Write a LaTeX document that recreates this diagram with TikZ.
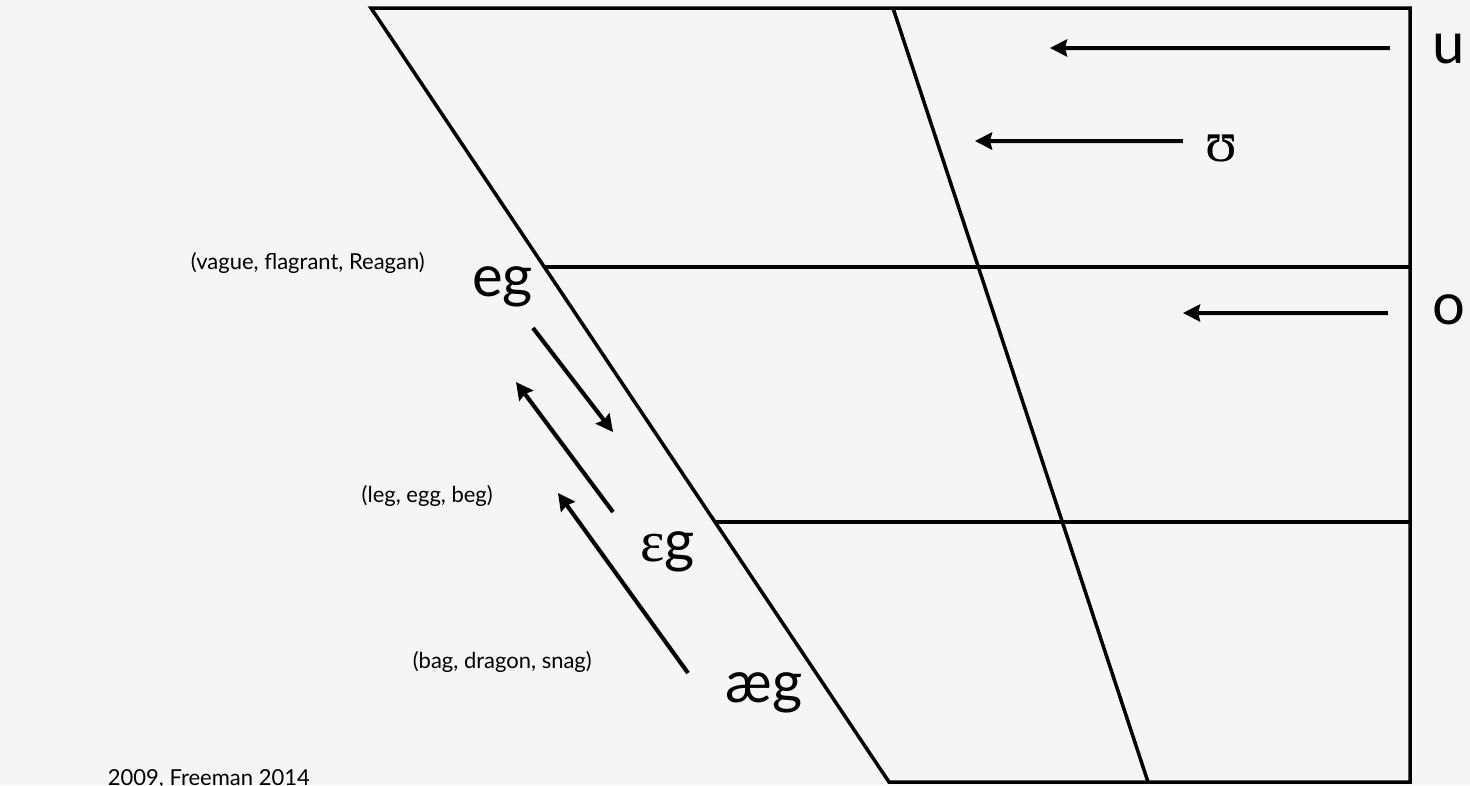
\documentclass[tikz,border=0pt]{standalone}
\usepackage{fontspec}
\setmainfont{Lato}
\newfontfamily\ipafont{Liberation Serif}
\usetikzlibrary{arrows.meta,calc}
\definecolor{bg}{RGB}{245,245,245}
\begin{document}
\begin{tikzpicture}[x=1pt,y=-1pt,
  gridline/.style={line width=3.5pt, line join=miter},
  arr/.style={line width=4pt, -{Stealth[length=17pt,width=17pt,inset=2pt]}},
  arrsh/.style={line width=5pt, draw=black!25, opacity=0.5, -{Stealth[length=17pt,width=17pt,inset=2pt]}, shift={(1.5,2.5)}},
  small/.style={font=\fontsize{22}{26}\selectfont, inner sep=0pt},
  big/.style={font=\fontsize{58}{66}\selectfont, inner sep=0pt}]
\useasboundingbox (0,0) rectangle (1470,785);
\clip (0,0) rectangle (1470,785);
\fill[bg] (0,0) rectangle (1470,785);

% chart frame
\coordinate (TL) at (371,8);
\coordinate (TR) at (1410,8);
\coordinate (BR) at (1410,782);
\coordinate (BL) at (889,782);
\coordinate (MT) at (893,8);
\coordinate (MB) at (1148,782);
\coordinate (L1) at ($(TL)!0.3346!(BL)$);
\coordinate (L2) at ($(TL)!0.6641!(BL)$);
\coordinate (R1) at (L1 -| BR);
\coordinate (R2) at (L2 -| BR);
\draw[gridline] (TL) -- (TR) -- (BR) -- (BL) -- cycle;
\draw[gridline] (MT) -- (MB);
\draw[gridline] (L1) -- (R1);
\draw[gridline] (L2) -- (R2);

% labels
\node[big, anchor=base west] (u) at (1432,63) {u};
\node[big, anchor=base west] (o) at (1432,324) {o};
\node[big, anchor=base west] (upsilon) at (1205,161) {\ipafont ʊ};
\node[big, anchor=base east] (eg) at (533,296) {eg};
\node[big, anchor=base east] (epsg) at (695,561) {{\ipafont ɛ}g};
\node[big, anchor=base east] (aeg) at (803,702) {æg};
\node[small, anchor=base east] (vague) at (425,269) {(vague, flagrant, Reagan)};
\node[small, anchor=base east] (leg) at (493,502) {(leg, egg, beg)};
\node[small, anchor=base east] (bag) at (592,668) {(bag, dragon, snag)};
\node[small, anchor=base east] (cite) at (310,785) {2009, Freeman 2014};

% arrows
\coordinate (uS) at (1390,48);   \coordinate (uE) at (1050,48);
\coordinate (vS) at (1183,141);  \coordinate (vE) at (975,141);
\coordinate (oS) at (1388,313);  \coordinate (oE) at (1183,313);
\coordinate (a1S) at (533,328);  \coordinate (a1E) at (613,432);
\coordinate (a2S) at (613,512);  \coordinate (a2E) at (516,382);
\coordinate (a3S) at (688,673);  \coordinate (a3E) at (558,493);
\foreach \s/\e in {uS/uE, vS/vE, oS/oE, a1S/a1E, a2S/a2E, a3S/a3E}{
  \draw[arrsh] (\s) -- (\e);
  \draw[arr] (\s) -- (\e);
}
\end{tikzpicture}
\end{document}
